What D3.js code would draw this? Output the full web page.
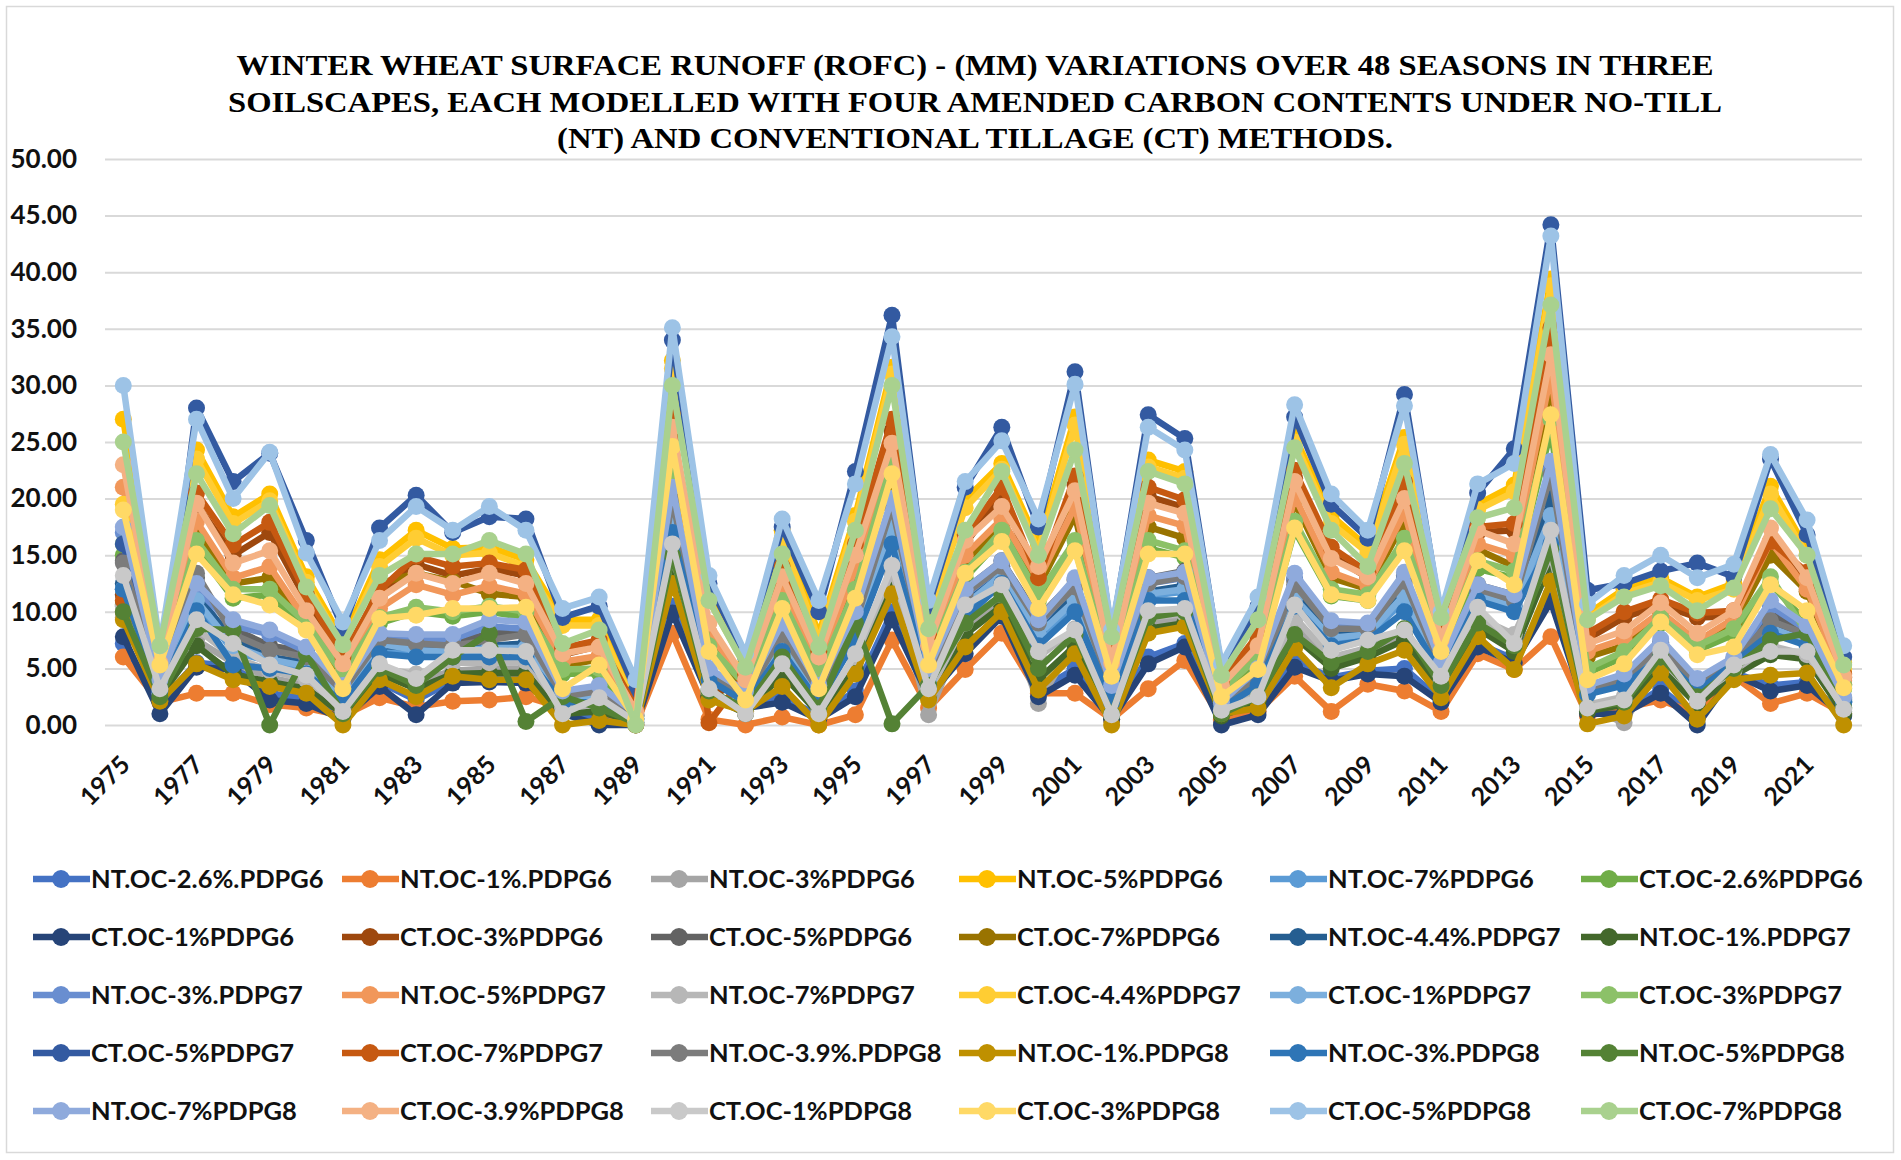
<!DOCTYPE html>
<html>
<head>
<meta charset="utf-8">
<script src="https://cdn.jsdelivr.net/npm/d3@7"></script>
<style>
  body { margin: 0; background: #fff; }
</style>
</head>
<body>
<div id="chart"></div>
<script>
// seasons on the category axis
var years = [1975, 1976, 1977, 1978, 1979, 1980, 1981, 1982, 1983, 1984, 1985, 1986,
             1987, 1988, 1989, 1990, 1991, 1992, 1993, 1994, 1995, 1996, 1997, 1998,
             1999, 2000, 2001, 2002, 2003, 2004, 2005, 2006, 2007, 2008, 2009, 2010,
             2011, 2012, 2013, 2014, 2015, 2016, 2017, 2018, 2019, 2020, 2021, 2022];

var yTicks = [0, 5, 10, 15, 20, 25, 30, 35, 40, 45, 50];

var titleLines = [
  "WINTER WHEAT SURFACE RUNOFF (ROFC) - (MM) VARIATIONS OVER 48 SEASONS IN THREE",
  "SOILSCAPES, EACH MODELLED WITH FOUR AMENDED CARBON CONTENTS UNDER NO-TILL",
  "(NT) AND CONVENTIONAL TILLAGE (CT) METHODS."
];

// runoff values (mm), one array per series, 1975 -> 2022
var ntOc26Pdpg6 = [7.2, 2, 5.5, 5.2, 2.8, 2.3, 0.8, 3.8, 2.2, 3.9, 4, 4.2,
                   1.2, 0.5, 0.2, 10.5, 2.8, 1.6, 2.5, 0.8, 3, 10, 2.8, 7,
                   9.8, 3, 5, 0.8, 6, 7.2, 0.4, 1.2, 5.6, 4.2, 4.8, 5,
                   2.2, 7.2, 5.8, 11.5, 1.2, 1.2, 3.2, 0.6, 4.6, 3.5, 3.8, 0.9];
var ntOc1Pdpg6 = [6.0, 2.0, 2.8, 2.8, 1.8, 1.5, 0.8, 2.4, 1.6, 2.1, 2.2, 2.5,
                  1.5, 1.2, 0, 8.1, 0.5, 0, 0.7, 0, 0.9, 7.5, 1.5, 4.9,
                  8.1, 2.8, 2.8, 0.5, 3.2, 5.7, 0.5, 1.2, 4.3, 1.2, 3.6, 3.0,
                  1.2, 6.3, 4.9, 7.8, 0.8, 1.5, 2.2, 1, 4.3, 1.9, 2.8, 1];
var ntOc3Pdpg6 = [9.5, 2.5, 7.5, 5.5, 4.2, 3.5, 1.2, 4.5, 3.8, 4.8, 5, 5,
                  1.2, 1.5, 0.3, 14, 2.8, 1, 5, 1.2, 5.5, 12.5, 0.9, 8.5,
                  11, 1.9, 7.5, 1.2, 9, 9.5, 1, 2.5, 9, 5.5, 6.5, 8,
                  3.5, 9, 7.5, 14, 1.5, 0.2, 5.5, 2.2, 4.5, 6.5, 6, 1.2];
var ntOc5Pdpg6 = [27, 6, 24.3, 18.4, 20.4, 13.1, 7.5, 14.6, 17.2, 15.6, 15.7, 14.6,
                  9.3, 9.3, 2, 32.2, 11.5, 5.5, 17.2, 8, 18.5, 31.6, 10, 19.9,
                  23.1, 16, 27.2, 7.5, 23.4, 22.4, 4.8, 10, 25.5, 18.5, 15.7, 25.4,
                  9, 19.5, 21.2, 39.4, 9.8, 12, 13.0, 11.3, 12.5, 21.1, 15.5, 5.5];
var ntOc7Pdpg6 = [11.5, 3, 10.8, 6.5, 5.6, 5, 2.5, 6.8, 6.4, 6.3, 6.5, 6.6,
                  2.1, 2.3, 0.5, 17.8, 4.1, 2.1, 7, 2.3, 8, 16, 4, 10.3,
                  13, 7.6, 10.8, 2.3, 11.4, 11.8, 1.5, 3.6, 11, 7.5, 7.9, 11,
                  4.6, 11.3, 10.2, 18, 2.8, 3.6, 6.3, 3.1, 5.5, 8.4, 7.3, 2];
var ctOc26Pdpg6 = [15, 4, 15.5, 11.2, 11.5, 8.5, 4, 9, 10, 9.6, 10, 9.5,
                   4.5, 4.6, 0.8, 21, 6.5, 3.2, 10.5, 4.2, 11.5, 22.5, 5.6, 13,
                   16.5, 11, 15.6, 4.2, 15.6, 14.8, 2.8, 5.6, 17.2, 11.4, 11, 15.8,
                   6.6, 13.8, 13, 26, 4.6, 6, 9, 6.6, 8, 12.5, 9, 3.2];
var ctOc1Pdpg6 = [7.8, 1.0, 5.1, 4.9, 2.2, 1.9, 0.5, 3.4, 0.9, 3.7, 3.8, 3.7,
                  1.0, 0, 0, 9.9, 2.5, 1.5, 2, 0.5, 2.5, 9.3, 2.5, 6.3,
                  9.6, 2.5, 4.4, 0.5, 5.4, 6.9, 0, 0.9, 5.1, 3.9, 4.5, 4.3,
                  2, 6.9, 5.5, 10.9, 1, 1, 2.8, 0, 4.5, 3.0, 3.5, 0.8];
var ctOc3Pdpg6 = [11.5, 4.5, 19.5, 15, 17, 11, 5.5, 11.5, 14.2, 13.2, 13.8, 13.2,
                  6.2, 7, 1.2, 26.5, 2.5, 4, 13.2, 6, 15.2, 26, 7.5, 16,
                  20.3, 12.5, 21.2, 5.5, 20.2, 19.2, 3.5, 7.5, 21.8, 15, 13, 20.8,
                  7.6, 17, 17.2, 34, 7.6, 9.5, 10.6, 9.5, 9.6, 15.6, 12.8, 4.2];
var ctOc5Pdpg6 = [14.5, 3.5, 13, 8.5, 7, 6.5, 3.2, 8, 7.6, 7.4, 8, 8.4,
                  2.8, 3.2, 0.9, 20.5, 4.8, 2.6, 8.5, 3.2, 9.5, 19.8, 4.8, 12,
                  14.5, 9.5, 12.8, 3.2, 13, 13.6, 2, 4.3, 12.8, 8.9, 8.9, 13.2,
                  5.3, 12.4, 11.5, 22.8, 3.2, 4.3, 7.3, 3.8, 5.8, 9.8, 8.4, 2.4];
var ctOc7Pdpg6 = [10, 4, 17, 12.5, 13, 9, 4.2, 12.5, 13.4, 12.7, 11.6, 11.3,
                  5.2, 5.8, 0.8, 23, 7.5, 3.2, 11.5, 5, 13, 21.5, 6, 14.5,
                  17.5, 12.2, 18.5, 4.8, 17.5, 16.5, 3, 6, 19.7, 13, 12, 18,
                  6.8, 15.5, 14, 30, 6, 7, 9.8, 7, 9, 15, 11.8, 3.6];
var ntOc44Pdpg7 = [12.5, 3.2, 11.5, 7.5, 6, 5.5, 2.8, 7, 6.8, 6.6, 7, 7.2,
                   2.3, 2.6, 0.6, 18.5, 4.3, 2.3, 7.5, 2.6, 8.5, 18, 4.2, 11,
                   13.5, 8.5, 11.4, 2.6, 11.8, 12.3, 1.6, 3.8, 11.6, 8, 8.2, 12,
                   4.8, 11.6, 10.5, 20, 2.9, 3.8, 6.6, 3.3, 5.5, 8.8, 7.6, 2.1];
var ntOc1Pdpg7 = [10.6, 2.5, 7, 4.5, 3.8, 3.2, 1, 4.5, 3.2, 4.5, 4.6, 4.6,
                  1, 1.2, 0.2, 13.5, 2.6, 1, 4.5, 1, 5, 12.5, 2.6, 8,
                  10.5, 4, 7, 0.8, 8.5, 9, 0.8, 2, 7.8, 5, 6, 7.5,
                  3.2, 8.5, 6.5, 14.5, 1.2, 1.8, 5, 1.8, 4.4, 6.2, 5.8, 1];
var ntOc3Pdpg7 = [17, 3.8, 12, 8.8, 8, 6.5, 3.2, 7.6, 7.5, 7.6, 8.7, 8.5,
                  2.8, 3.2, 0.8, 20.2, 4.6, 2.8, 8.5, 3.2, 9.4, 19.5, 4.6, 11.5,
                  14, 8.8, 12.4, 3.2, 12.5, 13, 1.8, 4.6, 12.9, 8.7, 8.6, 13,
                  5.2, 12, 11, 22.5, 3.2, 4.2, 7.2, 3.8, 5.8, 10.5, 8.4, 2.3];
var ntOc5Pdpg7 = [21, 4.8, 18, 13, 14, 9.2, 4.8, 10.3, 12.4, 11.5, 12.3, 11.6,
                  5.6, 6.1, 1, 24.5, 8.2, 3.6, 12, 5.4, 13.8, 23.5, 6.4, 15,
                  18.2, 12.8, 19.3, 5, 18.5, 17.6, 3.2, 6.4, 20.2, 13.5, 12.3, 18.8,
                  7, 16, 15, 31, 6.5, 7.6, 10, 7.4, 9.4, 16.2, 12, 3.9];
var ntOc7Pdpg7 = [10.5, 2.8, 8.5, 6, 4.8, 4, 1.5, 5, 4.5, 5.5, 5.5, 5.6,
                  1.5, 1.8, 0.4, 15, 3, 1.2, 5.5, 1.5, 6, 13.5, 2.8, 9,
                  11.5, 6, 8.5, 1.5, 9.5, 9.8, 1.2, 2.8, 9.5, 6, 6.8, 8.5,
                  3.8, 9.5, 8, 15, 1.8, 2.5, 5.8, 2.5, 4.8, 7, 6.2, 1.5];
var ctOc44Pdpg7 = [19.5, 5.5, 23.5, 17.8, 19.8, 12.6, 7, 14, 16.5, 15, 15.2, 14,
                   8.8, 8.8, 1.5, 31.5, 11, 5.2, 16.5, 7.5, 18, 31, 9.5, 19.2,
                   22.6, 15.4, 26.5, 7, 22.8, 21.8, 4.5, 9.6, 25, 17.8, 15.2, 24.8,
                   8.6, 19, 20.6, 38.8, 9.4, 11.6, 12.6, 11, 12, 20.4, 15, 5];
var ctOc1Pdpg7 = [12, 3.2, 11, 7, 5.8, 5.2, 2.6, 7.2, 6.6, 6.5, 6.8, 6.8,
                  2.2, 2.4, 0.6, 18, 4.2, 2.2, 7.2, 2.4, 8.2, 17.5, 4.1, 10.6,
                  13.3, 8, 11, 2.5, 11.6, 12, 1.6, 3.7, 11.2, 7.7, 8, 11.5,
                  4.7, 11.5, 10.4, 18.5, 2.9, 3.7, 6.5, 3.2, 5.6, 8.6, 7.4, 2.1];
var ctOc3Pdpg7 = [16, 4.5, 16.3, 12, 12, 9, 4.5, 9.5, 10.4, 10, 10.5, 10,
                  4.9, 5, 1, 22, 7, 3.5, 11, 4.5, 12, 23.4, 6, 13.5,
                  17.2, 11.5, 16.3, 4.5, 16.3, 15.4, 3, 6, 18, 12, 11.5, 16.5,
                  7, 14.5, 13.6, 27, 5, 6.5, 9.5, 7, 8.5, 13.1, 8.1, 3.5];
var ctOc5Pdpg7 = [16, 3, 28, 21.5, 24, 16.3, 8.5, 17.4, 20.3, 17, 18.4, 18.2,
                  9.5, 10.5, 3, 34, 12.5, 6, 17.5, 10, 22.4, 36.2, 10.5, 21,
                  26.3, 17.5, 31.2, 8, 27.4, 25.3, 5, 10.5, 27.2, 19.5, 16.5, 29.2,
                  9.5, 20.5, 24.4, 44.2, 11.9, 12.5, 13.6, 14.3, 13.1, 23.5, 16.8, 6];
var ctOc7Pdpg7 = [11, 5, 20.5, 15.9, 17.9, 11.6, 6, 11.9, 14.9, 14, 14.3, 13.7,
                  6.8, 7.5, 1.5, 27.5, 0.2, 4.5, 14, 6.5, 16, 27, 8, 16.8,
                  21, 13, 22, 6, 21.0, 19.9, 3.8, 8, 22.5, 15.7, 13.5, 21.5,
                  8, 17.5, 17.8, 35.1, 8.1, 10, 11.1, 9.9, 10.1, 16.2, 13.5, 4.5];
var ntOc39Pdpg8 = [14.3, 3.5, 13.4, 8, 6.6, 6, 3, 7.5, 7.2, 7, 7.5, 8,
                   2.5, 3, 0.8, 19.9, 4.5, 2.5, 8, 3, 9, 19.3, 4.5, 11.6,
                   14, 9, 12.2, 3, 12.5, 13.1, 1.8, 4, 12.4, 8.5, 8.5, 12.7,
                   5, 12, 11, 22.1, 3, 4, 7, 3.5, 5.5, 9.2, 8, 2.2];
var ntOc1Pdpg8 = [9.3, 2.1, 5.4, 4.0, 3.4, 2.8, 0, 4.0, 2.5, 4.3, 4.0, 4.0,
                  0, 0.4, 0, 12.5, 2.2, 1.2, 3.4, 0, 4.5, 11.6, 2.2, 6.9,
                  10, 3.1, 6.3, 0, 8.1, 8.7, 1, 1.5, 6.8, 3.3, 5.4, 6.6,
                  2.4, 7.8, 4.9, 12.7, 0.1, 0.8, 4.6, 0.5, 4.0, 4.4, 4.6, 0];
var ntOc3Pdpg8 = [12, 3, 10.1, 5.3, 5, 4.5, 2, 6.3, 6, 6, 6, 6,
                  2, 2, 0.5, 17, 4, 2, 6.5, 2, 7.5, 16.0, 3.5, 9.5,
                  12.5, 7, 10, 2, 11, 11, 1.5, 3.5, 10.5, 7, 7.5, 10,
                  4.5, 11, 10, 16, 2.7, 3.5, 6, 3, 5.5, 8.1, 7, 2];
var ntOc5Pdpg8 = [10, 2.5, 8.5, 8.4, 0, 6.3, 1, 5, 3.5, 6, 8.1, 0.3,
                  2.5, 1.5, 0.2, 15, 3, 1.5, 6, 1.5, 9, 0.1, 3.5, 9,
                  11.5, 5, 8, 1, 9.5, 10, 1, 2.5, 8, 5.5, 6.5, 8.5,
                  3.5, 9, 7, 15.5, 1.5, 2, 6, 2.5, 5, 7.5, 8.1, 1.5];
var ntOc7Pdpg8 = [17.5, 4, 12.5, 9.3, 8.4, 6.9, 3.5, 8.1, 8, 8, 9.3, 9.1,
                  3, 3.5, 1, 21, 5, 3, 9, 3.5, 10, 20, 5, 12,
                  14.5, 9.3, 13, 3.5, 13, 13.5, 2, 5, 13.4, 9.2, 9, 13.5,
                  5.5, 12.4, 11.5, 23.3, 3.5, 4.5, 7.6, 4.1, 6, 11, 8.8, 2.5];
var ctOc39Pdpg8 = [23, 5.5, 19.6, 14.3, 15.4, 10.1, 5.4, 11.2, 13.4, 12.5, 13.4, 12.5,
                   6.3, 6.9, 1.2, 26.3, 9, 4, 13.1, 6, 15, 24.9, 7, 16.3,
                   19.3, 14, 20.7, 5.5, 19.6, 18.7, 3.5, 7, 21.5, 14.7, 13.1, 20.0,
                   7.5, 17.2, 16.0, 32.7, 7.2, 8.3, 10.8, 8.1, 10.1, 17.4, 13.0, 4.3];
var ctOc1Pdpg8 = [13.2, 3.2, 9.3, 7.2, 5.3, 4.4, 1.2, 5.4, 4.1, 6.6, 6.6, 6.5,
                  1.0, 2.4, 0.3, 16.0, 3.2, 1.0, 5.4, 1.0, 6.3, 14.1, 3.2, 10.6,
                  12.4, 6.5, 8.4, 0.9, 10.1, 10.3, 1.3, 2.5, 10.6, 6.6, 7.5, 8.4,
                  4.3, 10.4, 7.2, 17.2, 1.5, 2.2, 6.6, 2.1, 5.3, 6.5, 6.5, 1.4];
var ctOc3Pdpg8 = [19, 5.3, 15.1, 11.5, 10.6, 8.4, 3.2, 9.4, 9.7, 10.3, 10.3, 10.4,
                  3.2, 5.3, 0.5, 24.6, 6.5, 2.2, 10.3, 3.2, 11.2, 22.2, 5.3, 13.4,
                  16.2, 10.3, 15.4, 4.3, 15.1, 15.1, 2.5, 4.9, 17.4, 11.5, 11.0, 15.4,
                  6.5, 14.5, 12.4, 27.4, 4.0, 5.4, 9.1, 6.2, 6.9, 12.4, 10.1, 3.3];
var ctOc5Pdpg8 = [30, 7, 27, 20, 24.1, 15.2, 9.1, 16.3, 19.3, 17.2, 19.3, 17.2,
                  10.3, 11.3, 4.0, 35.1, 13.2, 6.3, 18.2, 11.0, 21.3, 34.3, 11, 21.5,
                  25.1, 18.2, 30.1, 8.4, 26.3, 24.3, 5.4, 11.3, 28.3, 20.4, 17.2, 28.2,
                  10, 21.3, 23.1, 43.2, 10.7, 13.2, 15.0, 13.0, 14.2, 23.9, 18.1, 7.0];
var ctOc7Pdpg8 = [25, 7, 22.2, 16.9, 19.4, 12.2, 7.1, 13.2, 15.1, 15.1, 16.3, 15.1,
                  7.2, 8.4, 0, 30.0, 11.0, 5.1, 15.1, 6.9, 17.2, 30.0, 8.5, 17.2,
                  22.4, 15.0, 24.3, 7.8, 22.4, 21.3, 4.4, 9.3, 24.5, 17.2, 14.0, 23.1,
                  9.5, 18.3, 19.2, 37.1, 9.3, 11.3, 12.3, 10.1, 12.1, 19.1, 15.0, 5.3];

var seriesNames = [
  "NT.OC-2.6%.PDPG6", "NT.OC-1%.PDPG6", "NT.OC-3%PDPG6", "NT.OC-5%PDPG6", "NT.OC-7%PDPG6", "CT.OC-2.6%PDPG6",
  "CT.OC-1%PDPG6", "CT.OC-3%PDPG6", "CT.OC-5%PDPG6", "CT.OC-7%PDPG6", "NT.OC-4.4%.PDPG7", "NT.OC-1%.PDPG7",
  "NT.OC-3%.PDPG7", "NT.OC-5%PDPG7", "NT.OC-7%PDPG7", "CT.OC-4.4%PDPG7", "CT.OC-1%PDPG7", "CT.OC-3%PDPG7",
  "CT.OC-5%PDPG7", "CT.OC-7%PDPG7", "NT.OC-3.9%.PDPG8", "NT.OC-1%.PDPG8", "NT.OC-3%.PDPG8", "NT.OC-5%PDPG8",
  "NT.OC-7%PDPG8", "CT.OC-3.9%PDPG8", "CT.OC-1%PDPG8", "CT.OC-3%PDPG8", "CT.OC-5%PDPG8", "CT.OC-7%PDPG8"
];
var seriesValues = [
  ntOc26Pdpg6, ntOc1Pdpg6, ntOc3Pdpg6, ntOc5Pdpg6, ntOc7Pdpg6, ctOc26Pdpg6,
  ctOc1Pdpg6, ctOc3Pdpg6, ctOc5Pdpg6, ctOc7Pdpg6, ntOc44Pdpg7, ntOc1Pdpg7,
  ntOc3Pdpg7, ntOc5Pdpg7, ntOc7Pdpg7, ctOc44Pdpg7, ctOc1Pdpg7, ctOc3Pdpg7,
  ctOc5Pdpg7, ctOc7Pdpg7, ntOc39Pdpg8, ntOc1Pdpg8, ntOc3Pdpg8, ntOc5Pdpg8,
  ntOc7Pdpg8, ctOc39Pdpg8, ctOc1Pdpg8, ctOc3Pdpg8, ctOc5Pdpg8, ctOc7Pdpg8
];

// office style series colours
var palette = [
  "#4472C4", "#ED7D31", "#A5A5A5", "#FFC000", "#5B9BD5", "#70AD47",
  "#264478", "#9E480E", "#636363", "#997300", "#255E91", "#43682B",
  "#698ED0", "#F1975A", "#B7B7B7", "#FFCD33", "#7CAFDD", "#8CC168",
  "#335AA1", "#C65911", "#7C7C7C", "#BF9000", "#2E75B6", "#548235",
  "#8FAADC", "#F4B183", "#C9C9C9", "#FFD966", "#9DC3E6", "#A9D18E"
];

var width  = 1901;
var height = 1160;
var plot   = { left: 105, right: 1862, top: 159, bottom: 725 };
var bodyFont  = "Lato, 'Open Sans', sans-serif";
var titleFont = "'Liberation Serif', 'Times New Roman', serif";
var titleWidths = [1477, 1494, 836];

var svg = d3.select("#chart")
            .append("svg")
            .attr("width", width)
            .attr("height", height);

svg.append("rect")
   .attr("width", width)
   .attr("height", height)
   .style("fill", "white");

// chart frame
svg.append("rect")
   .attr("x", 6.5)
   .attr("y", 6.5)
   .attr("width", 1887)
   .attr("height", 1146)
   .style("fill", "none")
   .style("stroke", "#d9d9d9")
   .style("stroke-width", 1.5);

// title, stretched to the widths of the original lines
svg.append("g")
   .selectAll("text")
   .data(titleLines)
   .enter()
     .append("text")
     .text(function(d) { return d; })
     .attr("x", 975)
     .attr("y", function(d, i) { return 75 + i * 36.5; })
     .attr("text-anchor", "middle")
     .attr("textLength", function(d, i) { return titleWidths[i]; })
     .attr("lengthAdjust", "spacingAndGlyphs")
     .style("font-family", titleFont)
     .style("font-weight", "bold")
     .style("font-size", "30px")
     .style("fill", "#000");

// scales
var x = d3.scaleBand()
          .domain(years)
          .range([plot.left, plot.right]);
var y = d3.scaleLinear()
          .domain([0, 50])
          .range([plot.bottom, plot.top]);
function cx(year) { return x(year) + x.bandwidth() / 2; }

// y axis with gridlines
var yAxis = d3.axisLeft(y)
              .tickValues(yTicks)
              .tickFormat(d3.format(".2f"))
              .tickSize(-(plot.right - plot.left))
              .tickPadding(28);
var yAxisGroup = svg.append("g")
                    .attr("transform", "translate(" + plot.left + ",0)")
                    .call(yAxis);
yAxisGroup.select(".domain").remove();
yAxisGroup.selectAll("line")
          .style("stroke", "#d9d9d9")
          .style("stroke-width", 2);
yAxisGroup.selectAll("text")
          .style("font-family", bodyFont)
          .style("font-weight", "bold")
          .style("font-size", "26px")
          .style("fill", "#111");

// x axis, every second season labelled
var xAxis = d3.axisBottom(x)
              .tickValues(years.filter(function(d, i) { return i % 2 === 0 && i < years.length - 1; }))
              .tickFormat(d3.format("d"))
              .tickSize(0);
var xAxisGroup = svg.append("g")
                    .attr("transform", "translate(0," + plot.bottom + ")")
                    .call(xAxis);
xAxisGroup.select(".domain").remove();
xAxisGroup.selectAll("text")
          .attr("x", 0)
          .attr("y", 0)
          .attr("dy", "0.35em")
          .attr("transform", "translate(2,35) rotate(-45)")
          .style("text-anchor", "end")
          .style("font-family", bodyFont)
          .style("font-weight", "bold")
          .style("font-size", "25px")
          .style("fill", "#111");

// series: lines with round markers, drawn in legend order
var line = d3.line()
             .x(function(d, i) { return cx(years[i]); })
             .y(function(d) { return y(d); });

var seriesGroup = svg.append("g");
seriesValues.forEach(function(values, s) {
  var g = seriesGroup.append("g");
  g.append("path")
   .attr("d", line(values))
   .style("fill", "none")
   .style("stroke", palette[s])
   .style("stroke-width", 6.5)
   .style("stroke-linejoin", "round");
  g.selectAll("circle")
   .data(values)
   .enter()
     .append("circle")
     .attr("cx", function(d, i) { return cx(years[i]); })
     .attr("cy", function(d) { return y(d); })
     .attr("r", 8.5)
     .style("fill", palette[s]);
});

// legend, 6 columns x 5 rows
var legendCols = [33, 342, 651, 959, 1270, 1581];
var legendRows = [879, 937, 995, 1053, 1111];
var legend = svg.append("g")
                .selectAll("g")
                .data(seriesNames)
                .enter()
                  .append("g")
                  .attr("transform", function(d, i) {
                    return "translate(" + legendCols[i % 6] + "," + legendRows[Math.floor(i / 6)] + ")";
                  });
legend.append("line")
      .attr("x1", 0)
      .attr("x2", 57)
      .style("stroke", function(d, i) { return palette[i]; })
      .style("stroke-width", 6.5);
legend.append("circle")
      .attr("cx", 28)
      .attr("r", 9)
      .style("fill", function(d, i) { return palette[i]; });
legend.append("text")
      .text(function(d) { return d; })
      .attr("x", 58)
      .attr("dy", "0.36em")
      .style("font-family", bodyFont)
      .style("font-weight", "bold")
      .style("font-size", "25.5px")
      .style("fill", "#111");
</script>
</body>
</html>
